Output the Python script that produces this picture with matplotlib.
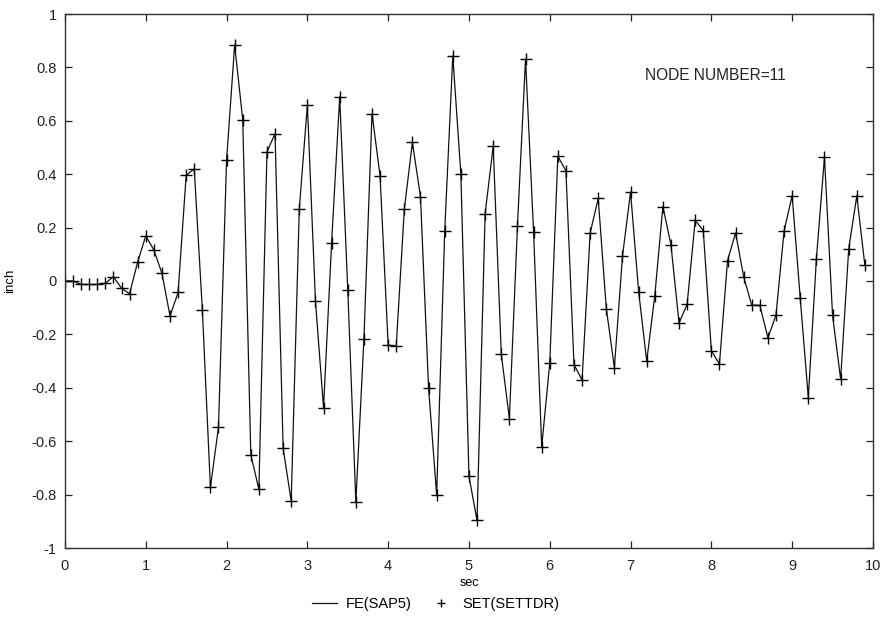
import numpy as np
import matplotlib
matplotlib.use("Agg")
import matplotlib.pyplot as plt

plt.rcParams['font.family'] = ['Liberation Sans', 'DejaVu Sans']

# time history of node 11, sampled every 0.1 s
t = [0.0, 0.1, 0.2, 0.3, 0.4, 0.5, 0.6, 0.7, 0.8, 0.9,
     1.0, 1.1, 1.2, 1.3, 1.4, 1.5, 1.6, 1.7, 1.8, 1.9,
     2.0, 2.1, 2.2, 2.3, 2.4, 2.5, 2.6, 2.7, 2.8, 2.9,
     3.0, 3.1, 3.2, 3.3, 3.4, 3.5, 3.6, 3.7, 3.8, 3.9,
     4.0, 4.1, 4.2, 4.3, 4.4, 4.5, 4.6, 4.7, 4.8, 4.9,
     5.0, 5.1, 5.2, 5.3, 5.4, 5.5, 5.6, 5.7, 5.8, 5.9,
     6.0, 6.1, 6.2, 6.3, 6.4, 6.5, 6.6, 6.7, 6.8, 6.9,
     7.0, 7.1, 7.2, 7.3, 7.4, 7.5, 7.6, 7.7, 7.8, 7.9,
     8.0, 8.1, 8.2, 8.3, 8.4, 8.5, 8.6, 8.7, 8.8, 8.9,
     9.0, 9.1, 9.2, 9.3, 9.4, 9.5, 9.6, 9.7, 9.8, 9.9]

fe_sap5 = [0.0, 0.0, -0.013, -0.013, -0.013, -0.008, 0.016, -0.027, -0.048, 0.072,
           0.169, 0.116, 0.029, -0.131, -0.043, 0.396, 0.42, -0.107, -0.773, -0.547,
           0.453, 0.884, 0.604, -0.651, -0.78, 0.484, 0.552, -0.627, -0.824, 0.269,
           0.66, -0.075, -0.475, 0.143, 0.689, -0.033, -0.827, -0.217, 0.627, 0.393,
           -0.24, -0.244, 0.269, 0.519, 0.316, -0.40, -0.801, 0.187, 0.843, 0.399,
           -0.731, -0.897, 0.252, 0.505, -0.274, -0.515, 0.205, 0.832, 0.183, -0.621,
           -0.308, 0.467, 0.413, -0.313, -0.371, 0.18, 0.309, -0.104, -0.324, 0.093,
           0.333, -0.04, -0.30, -0.055, 0.279, 0.136, -0.157, -0.088, 0.227, 0.189,
           -0.261, -0.311, 0.076, 0.18, 0.016, -0.091, -0.091, -0.213, -0.128, 0.187,
           0.32, -0.064, -0.437, 0.083, 0.463, -0.128, -0.368, 0.12, 0.319, 0.059]

set_settdr = list(fe_sap5)

xticks = [0, 1, 2, 3, 4, 5, 6, 7, 8, 9, 10]
yticks = [-1, -0.8, -0.6, -0.4, -0.2, 0, 0.2, 0.4, 0.6, 0.8, 1]
ytick_labels = ['-1', '-0.8', '-0.6', '-0.4', '-0.2', '0', '0.2', '0.4', '0.6', '0.8', '1']

fig = plt.figure(figsize=(8.84, 6.25), dpi=100)
ax = fig.add_axes([0.0735, 0.1232, 0.914, 0.8544])

ax.plot(t, fe_sap5, '-', color='#111111', lw=0.9, label='FE(SAP5)')
ax.plot(t, set_settdr, '+', color='black', ms=9, mew=1.0, label='SET(SETTDR)')

ax.set_xlim(0, 10)
ax.set_ylim(-1, 1)
ax.set_xticks(xticks)
ax.set_yticks(yticks)
ax.set_yticklabels(ytick_labels)
ax.tick_params(direction='in', length=5, width=0.9, top=True, right=True,
               labelsize=10.5, colors='#222222')
ax.tick_params(axis='x', pad=8)
ax.tick_params(axis='y', pad=6)
for s in ax.spines.values():
    s.set_linewidth(1.0)
    s.set_color('#333333')

ax.set_xlabel('sec', fontsize=9, labelpad=3)
ax.set_ylabel('inch', fontsize=9.5, labelpad=11)

ax.text(7.18, 0.77, 'NODE NUMBER=11', fontsize=11.2, color='#222222', va='center')

fig.legend(loc='center', bbox_to_anchor=(0.493, 0.034), ncol=2, frameon=False,
           fontsize=10.5, handlelength=1.7, columnspacing=1.2, handletextpad=0.6,
           markerscale=0.6)

fig.savefig('out.png', dpi=100)
